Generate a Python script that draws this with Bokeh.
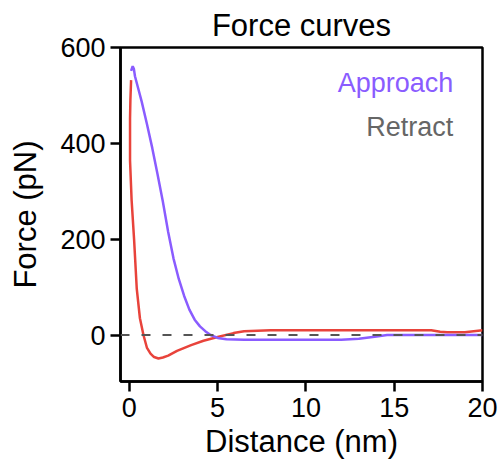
from bokeh.plotting import figure
from bokeh.models import Span, Label, FixedTicker, Range1d
from bokeh.embed import file_html
from bokeh.resources import INLINE

# Approach curve (distance nm, force pN)
approach_x = [0.1, 0.19, 0.26, 0.32, 0.5, 0.7, 1.0, 1.3, 1.6, 1.9, 2.2, 2.5, 2.8, 3.1, 3.4, 3.7, 4.0, 4.3, 4.6, 5.0, 5.5, 6.5, 8, 10, 12, 13, 14, 14.6, 17, 20]
approach_y = [551, 561, 555, 540, 515, 487, 440, 390, 335, 278, 215, 160, 117, 82, 53, 32, 18, 8, 0, -6, -9, -10, -10, -10, -10, -8, -3, 0, 0, 0]

# Retract curve
retract_x = [0.1, 0.06, 0.04, 0.04, 0.13, 0.27, 0.42, 0.6, 0.8, 1.0, 1.2, 1.4, 1.65, 1.9, 2.2, 2.7, 3.5, 4.2, 5.0, 5.9, 6.5, 8, 10, 12, 14, 16, 17.1, 17.6, 18, 19, 19.5, 20]
retract_y = [532, 490, 452, 364, 281, 199, 97, 35, 0, -27, -39, -46, -49, -47, -43, -33, -21, -12, -4, 4, 8, 10, 10, 10, 10, 10, 10, 7, 6, 6, 8, 10]

x_ticks = [0, 5, 10, 15, 20]
y_ticks = [0, 200, 400, 600]

FONT = "Liberation Sans"
PURPLE = "#8a5cff"
RED = "#e8433b"

p = figure(width=499, height=461, output_backend="svg", toolbar_location=None,
           x_range=Range1d(-0.5, 20), y_range=Range1d(-97, 600),
           title="Force curves",
           min_border_left=120, min_border_right=17, min_border_top=45, min_border_bottom=77)

p.title.align = "center"
p.title.text_font = FONT
p.title.text_font_size = "31px"
p.title.text_font_style = "normal"
p.title.text_color = "black"

p.grid.visible = False
p.background_fill_color = "white"
p.border_fill_color = "white"
p.outline_line_color = "black"
p.outline_line_width = 2.5
p.outline_line_alpha = 1

for ax in (p.xaxis[0], p.yaxis[0]):
    ax.axis_line_width = 2.5
    ax.axis_line_color = "black"
    ax.major_tick_line_width = 2.5
    ax.major_tick_line_color = "black"
    ax.major_tick_in = 0
    ax.major_tick_out = 10
    ax.minor_tick_line_color = None
    ax.major_label_text_font = FONT
    ax.major_label_text_font_size = "27px"
    ax.major_label_text_color = "black"
    ax.axis_label_text_font = FONT
    ax.axis_label_text_font_size = "31px"
    ax.axis_label_text_font_style = "normal"
    ax.axis_label_text_color = "black"

p.xaxis[0].ticker = FixedTicker(ticks=x_ticks)
p.yaxis[0].ticker = FixedTicker(ticks=y_ticks)
p.xaxis[0].axis_label = "Distance (nm)"
p.yaxis[0].axis_label = "Force (pN)"
p.xaxis[0].major_label_standoff = 6
p.yaxis[0].major_label_standoff = 5
p.xaxis[0].axis_label_standoff = 4
p.yaxis[0].axis_label_standoff = 14

p.add_layout(Span(location=0, dimension="width", line_color="#555555",
                  line_width=2, line_dash="9 12"))

p.line(retract_x, retract_y, line_color=RED, line_width=2.5)
p.line(approach_x, approach_y, line_color=PURPLE, line_width=2.5)

p.add_layout(Label(x=18.35, y=525, text="Approach", text_align="right",
                   text_baseline="alphabetic", text_font=FONT,
                   text_font_size="27px", text_color=PURPLE))
p.add_layout(Label(x=18.35, y=435, text="Retract", text_align="right",
                   text_baseline="alphabetic", text_font=FONT,
                   text_font_size="27px", text_color="#666666"))

open("out.html", "w").write(file_html(p, INLINE))
